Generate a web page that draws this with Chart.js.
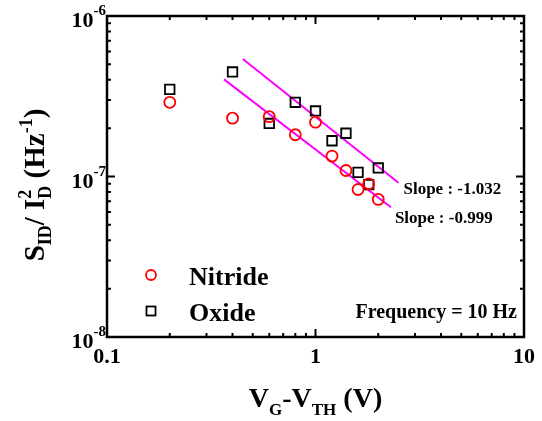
<!DOCTYPE html>
<html>
<head>
<meta charset="utf-8">
<script src="https://cdn.jsdelivr.net/npm/chart.js@4.4.1/dist/chart.umd.min.js"></script>
<style>html,body{margin:0;padding:0;background:#fff}</style>
</head>
<body>
<canvas id="c" width="542" height="421"></canvas>
<script>
// V_G - V_TH (V)
const vgVth = [0.2, 0.4, 0.6, 0.8, 1.0, 1.2, 1.4, 1.6, 1.8, 2.0];
// S_ID / I_D^2 (Hz^-1)
const nitride = [2.90e-7, 2.31e-7, 2.36e-7, 1.82e-7, 2.18e-7, 1.34e-7, 1.09e-7, 8.3e-8, 9.0e-8, 7.2e-8];
const oxide = [3.49e-7, 4.48e-7, 2.14e-7, 2.90e-7, 2.56e-7, 1.67e-7, 1.86e-7, 1.06e-7, 8.9e-8, 1.13e-7];
// fitted lines (end points)
const oxideFitX = [0.448, 2.50];
const oxideFitY = [5.40e-7, 9.14e-8];
const nitrideFitX = [0.364, 2.30];
const nitrideFitY = [4.03e-7, 6.43e-8];
const slopeLabels = ['Slope : -1.032', 'Slope : -0.999'];
const xTicks = [0.1, 1, 10];
const xTickLabels = ['0.1', '1', '10'];
const yTicks = [1e-8, 1e-7, 1e-6];
const yTickExps = ['-8', '-7', '-6'];

const FONT = '"Liberation Serif", "Times New Roman", serif';
const pts = (xs, ys) => xs.map((v, i) => ({ x: v, y: ys[i] }));

// draws text made of pieces [text, size, dy, stack]
function rich(ctx, parts, x, y, align) {
  const w = parts.map(p => { ctx.font = `bold ${p[1]}px ${FONT}`; return ctx.measureText(p[0]).width; });
  let total = 0, held = 0;
  parts.forEach((p, i) => {
    if (p[3]) { held = w[i]; return; }
    total += Math.max(w[i], held); held = 0;
  });
  let cx = align === 'right' ? x - total : align === 'center' ? x - total / 2 : x;
  held = 0;
  parts.forEach((p, i) => {
    ctx.font = `bold ${p[1]}px ${FONT}`;
    ctx.fillText(p[0], cx, y + (p[2] || 0));
    if (p[3]) { held = w[i]; return; }
    cx += Math.max(w[i], held); held = 0;
  });
}

const frame = {
  id: 'frame',
  afterDraw(chart) {
    const { ctx, chartArea: a, scales: { x, y } } = chart;
    ctx.save();
    ctx.strokeStyle = '#000';
    ctx.fillStyle = '#000';
    ctx.lineWidth = 2;
    ctx.beginPath();
    for (const d of [0.1, 1]) for (let m = 1; m <= 10; m++) {
      const px = x.getPixelForValue(d * m), len = m === 1 || m === 10 ? 8 : 4;
      ctx.moveTo(px, a.bottom); ctx.lineTo(px, a.bottom - len);
      ctx.moveTo(px, a.top); ctx.lineTo(px, a.top + len);
    }
    for (const d of [1e-8, 1e-7]) for (let m = 1; m <= 10; m++) {
      const py = y.getPixelForValue(d * m), len = m === 1 || m === 10 ? 8 : 4;
      ctx.moveTo(a.left, py); ctx.lineTo(a.left + len, py);
      ctx.moveTo(a.right, py); ctx.lineTo(a.right - len, py);
    }
    ctx.stroke();
    ctx.lineWidth = 2.5;
    ctx.strokeRect(a.left, a.top, a.right - a.left, a.bottom - a.top);

    ctx.textBaseline = 'alphabetic';
    ctx.textAlign = 'left';
    // tick labels
    yTicks.forEach((v, i) => {
      const py = y.getPixelForValue(v);
      rich(ctx, [['10', 22, 0], [yTickExps[i], 15, -12]], a.left - 1, py + 11, 'right');
    });
    xTicks.forEach((v, i) => {
      rich(ctx, [[xTickLabels[i], 22, 0]], x.getPixelForValue(v), 363, 'center');
    });
    // axis titles
    rich(ctx, [['V', 28, 0], ['G', 17, 8], ['-V', 28, 0], ['TH', 17, 8], [' (V)', 28, 0]],
      (a.left + a.right) / 2, 407, 'center');
    ctx.save();
    ctx.translate(44, 185);
    ctx.rotate(-Math.PI / 2);
    rich(ctx, [['S', 29, 0], ['ID', 18, 7], ['/', 29, 0], [' I', 29, 0], ['D', 18, 7, true], ['2', 18, -13],
      [' (Hz', 29, 0], ['-1', 18, -12], [')', 29, 0]], 0, 0, 'center');
    ctx.restore();

    // slope labels at fit ends
    const e1x = x.getPixelForValue(oxideFitX[1]), e1y = y.getPixelForValue(oxideFitY[1]);
    const e2x = x.getPixelForValue(nitrideFitX[1]), e2y = y.getPixelForValue(nitrideFitY[1]);
    rich(ctx, [[slopeLabels[0], 17, 0]], e1x + 5, e1y + 11, 'left');
    rich(ctx, [[slopeLabels[1], 17, 0]], e2x + 4, e2y + 16, 'left');

    // legend
    const ds = chart.data.datasets;
    ctx.lineWidth = 1.8;
    ctx.strokeStyle = ds[0].borderColor;
    ctx.beginPath(); ctx.arc(a.left + 44, 275, 5, 0, Math.PI * 2); ctx.stroke();
    ctx.strokeStyle = ds[1].borderColor;
    ctx.strokeRect(a.left + 39.5, 306.5, 9, 9);
    rich(ctx, [[ds[0].label, 26, 0]], 189, 285, 'left');
    rich(ctx, [[ds[1].label, 26, 0]], 189, 321, 'left');
    rich(ctx, [['Frequency = 10 Hz', 20, 0]], 517, 318, 'right');
    ctx.restore();
  }
};

new Chart(document.getElementById('c'), {
  type: 'scatter',
  data: {
    datasets: [
      { label: 'Nitride', data: pts(vgVth, nitride), pointStyle: 'circle', pointRadius: 5.5,
        borderColor: '#ff0000', backgroundColor: 'rgba(0,0,0,0)', borderWidth: 1.8, order: 1 },
      { label: 'Oxide', data: pts(vgVth, oxide), pointStyle: 'rect', pointRadius: 6.7,
        borderColor: '#000000', backgroundColor: 'rgba(0,0,0,0)', borderWidth: 1.8, order: 2 },
      { label: 'fit oxide', data: pts(oxideFitX, oxideFitY), showLine: true, pointRadius: 0,
        borderColor: '#ff00ff', borderWidth: 2, order: 3 },
      { label: 'fit nitride', data: pts(nitrideFitX, nitrideFitY), showLine: true, pointRadius: 0,
        borderColor: '#ff00ff', borderWidth: 2, order: 3 }
    ]
  },
  options: {
    responsive: false,
    animation: false,
    layout: { padding: { left: 107, right: 18, top: 16, bottom: 84 } },
    scales: {
      x: { type: 'logarithmic', min: 0.1, max: 10, display: false },
      y: { type: 'logarithmic', min: 1e-8, max: 1e-6, display: false }
    },
    plugins: { legend: { display: false }, tooltip: { enabled: false } }
  },
  plugins: [frame]
});
</script>
</body>
</html>
